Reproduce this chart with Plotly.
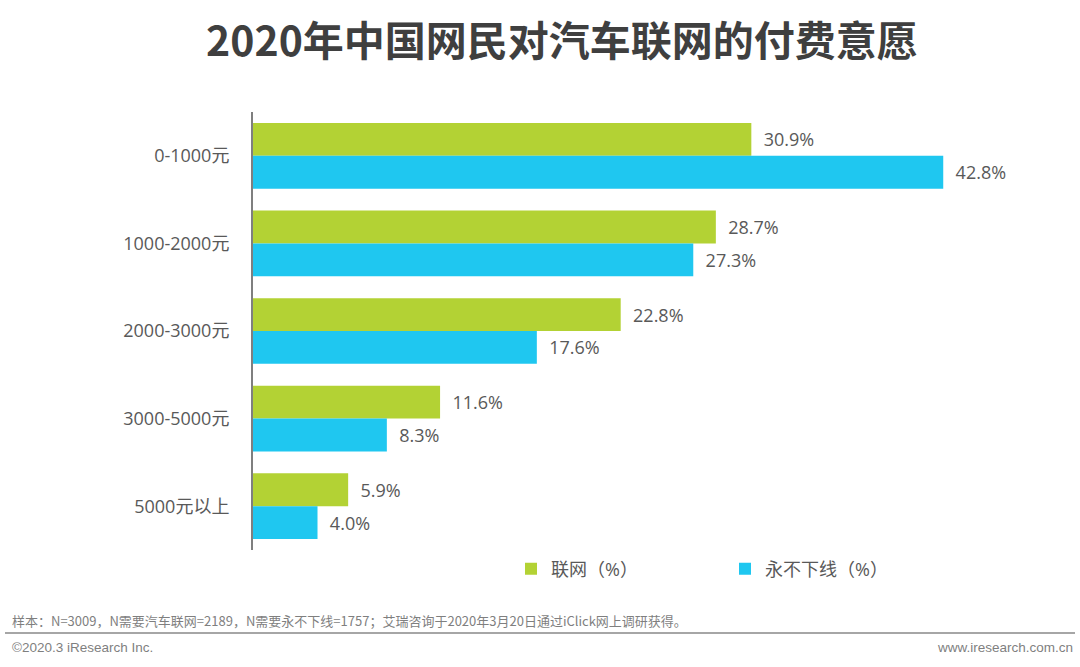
import plotly.graph_objects as go

categories = ["0-1000元", "1000-2000元", "2000-3000元", "3000-5000元", "5000元以上"]
series_names = ["联网（%）", "永不下线（%）"]
lianwang = [30.9, 28.7, 22.8, 11.6, 5.9]
yongbu = [42.8, 27.3, 17.6, 8.3, 4.0]
colors = ["#B3D234", "#1FC7F0"]

title = "2020年中国网民对汽车联网的付费意愿"
note = "样本：N=3009，N需要汽车联网=2189，N需要永不下线=1757；艾瑞咨询于2020年3月20日通过iClick网上调研获得。"
copyright_text = "©2020.3 iResearch Inc."
site_text = "www.iresearch.com.cn"

FONT = "Open Sans, Noto Sans CJK SC, sans-serif"
TXT = "#595959"
PW, PH = 787, 438  # plot area size in px (for paper-coordinate placement)

fig = go.Figure()
for name, vals, col in zip(series_names, [lianwang, yongbu], colors):
    fig.add_trace(go.Bar(
        y=categories, x=vals, name=name, orientation="h",
        marker=dict(color=col, line=dict(width=0)),
        text=[f"\u00a0\u00a0{v:.1f}%" for v in vals], textposition="outside",
        textfont=dict(size=18, color=TXT, family=FONT),
        cliponaxis=False,
    ))

fig.update_layout(
    width=1080, height=667, autosize=False,
    margin=dict(l=253, r=40, t=112, b=117, autoexpand=False),
    paper_bgcolor="white", plot_bgcolor="white",
    barmode="group", bargap=0.25, bargroupgap=0,
    font=dict(family=FONT, color=TXT),
    title=dict(text=f"<b>{title}</b>", x=562 / 1080, xanchor="center", y=0.937, yanchor="middle",
               font=dict(size=41, color="#3F3F3F", family="Noto Sans CJK SC, sans-serif")),
    xaxis=dict(range=[0, 48.8], visible=False, fixedrange=True),
    yaxis=dict(autorange="reversed", showline=True, linecolor="#7F7F7F", linewidth=2,
               ticks="", showgrid=False, ticklabelstandoff=18, fixedrange=True,
               tickfont=dict(size=18, color=TXT, family=FONT)),
    legend=dict(orientation="h", xref="paper", yref="paper",
                x=(511 - 253) / PW, y=(550 - 569) / PH, xanchor="left", yanchor="middle",
                entrywidth=169, entrywidthmode="pixels", itemwidth=30,
                font=dict(size=18, color=TXT, family=FONT), traceorder="normal"),
    showlegend=True,
)

fig.add_annotation(text=note, xref="paper", yref="paper", x=(10 - 253) / PW, y=(550 - 620) / PH,
                   xanchor="left", yanchor="middle", showarrow=False,
                   font=dict(size=13, color="#7F7F7F", family="Noto Sans CJK SC, sans-serif"))
fig.add_shape(type="line", xref="paper", yref="paper", x0=(5 - 253) / PW, x1=(1075 - 253) / PW,
              y0=(550 - 633) / PH, y1=(550 - 633) / PH, line=dict(color="#A6A6A6", width=2))
fig.add_annotation(text=copyright_text, xref="paper", yref="paper", x=(10 - 253) / PW, y=(550 - 647) / PH,
                   xanchor="left", yanchor="middle", showarrow=False,
                   font=dict(size=13.5, color="#7F7F7F", family="Liberation Sans Narrow, Liberation Sans, sans-serif"))
fig.add_annotation(text=site_text, xref="paper", yref="paper", x=(1075 - 253) / PW, y=(550 - 647) / PH,
                   xanchor="right", yanchor="middle", showarrow=False,
                   font=dict(size=13.5, color="#7F7F7F", family="Liberation Sans Narrow, Liberation Sans, sans-serif"))

fig.write_html("out.html", config={"displayModeBar": False},
               post_script="document.body.style.margin='0';document.body.style.overflow='hidden';")
